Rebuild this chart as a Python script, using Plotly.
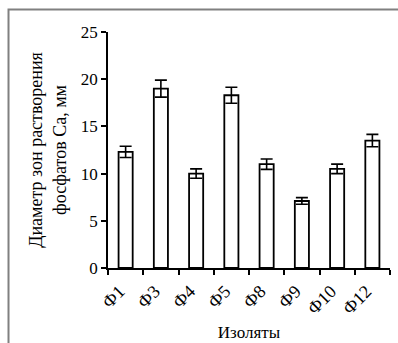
import plotly.graph_objects as go

categories = ["Ф1", "Ф3", "Ф4", "Ф5", "Ф8", "Ф9", "Ф10", "Ф12"]
values = [12.3, 19.0, 10.0, 18.3, 11.0, 7.1, 10.5, 13.5]
errors = [0.6, 0.9, 0.5, 0.85, 0.55, 0.35, 0.5, 0.65]

FONT = "Liberation Serif, Times New Roman, serif"

fig = go.Figure(go.Bar(
    x=categories, y=values,
    marker=dict(color="white", line=dict(color="black", width=1.8)),
    width=0.4,
    error_y=dict(type="data", array=errors, visible=True,
                 color="black", thickness=1.6, width=6),
))

fig.update_layout(
    width=398, height=343,
    margin=dict(l=108, r=8, t=32, b=75),
    paper_bgcolor="white", plot_bgcolor="white",
    showlegend=False,
    font=dict(family=FONT, size=16, color="black"),
    xaxis=dict(
        automargin=False,
        showline=True, linecolor="black", linewidth=1.5,
        ticks="outside", ticklen=5, tickwidth=1.5, tickcolor="black",
        tickson="boundaries", tickangle=-45,
        ticklabelshift=-6, ticklabelstandoff=4,
        tickfont=dict(family=FONT, size=18),
        title=dict(text="Изоляты", font=dict(family=FONT, size=17), standoff=9),
        showgrid=False,
    ),
    yaxis=dict(
        automargin=False,
        range=[0, 25], dtick=5,
        showline=True, linecolor="black", linewidth=1.5,
        ticks="outside", ticklen=5, tickwidth=1.5, tickcolor="black",
        tickfont=dict(family=FONT, size=17),
        title=dict(text="Диаметр зон растворения<br>фосфатов Са, мм",
                   font=dict(family=FONT, size=18), standoff=10),
        showgrid=False, zeroline=False,
    ),
    shapes=[dict(type="rect", xref="paper", yref="paper",
                 x0=-0.3528, x1=1.2, y0=-0.5, y1=1.0957,
                 line=dict(color="#808080", width=2), layer="below")],
)

fig.write_html("out.html", config={"displayModeBar": False},
               post_script="document.body.style.margin='0';document.body.style.overflow='hidden';")
